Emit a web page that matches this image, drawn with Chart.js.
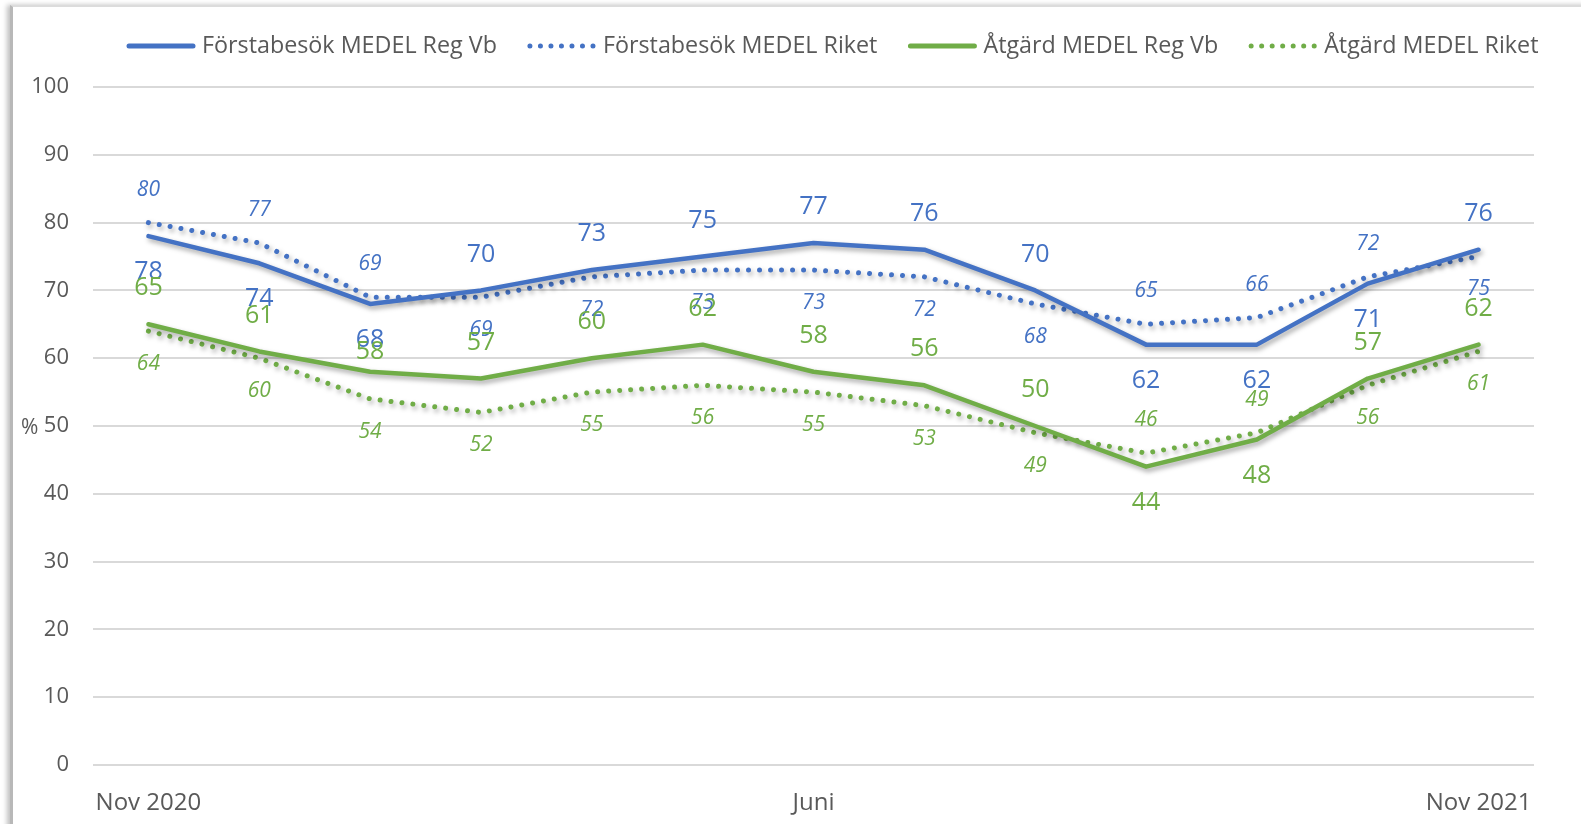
<!DOCTYPE html>
<html>
<head>
<meta charset="utf-8">
<script src="https://cdn.jsdelivr.net/npm/chart.js@4"></script>
<style>
  html, body { margin: 0; padding: 0; background: #fff; overflow: hidden; }
  #frame { position: absolute; left: 10px; top: 5px; width: 1600px; height: 900px;
           border-top: 2px solid #dcdcdc; border-left: 3px solid #b8b8b8;
           box-shadow: -3px 0 5px rgba(0,0,0,0.25); background: #fff; }
  #wrap { position: absolute; left: 0; top: 0; width: 1581px; height: 824px; }
</style>
</head>
<body>
<div id="frame"></div>
<div id="wrap"><canvas id="c" width="1581" height="824"></canvas></div>
<script>
// ---- Data ----
const months = ["Nov 2020","Dec","Jan","Feb","Mar","Apr","Juni","Jul","Aug","Sep","Okt","Nov","Nov 2021"];
const shownTickLabels = {0: "Nov 2020", 6: "Juni", 12: "Nov 2021"};
const seriesNames = ["Förstabesök MEDEL Reg Vb", "Förstabesök MEDEL Riket", "Åtgärd MEDEL Reg Vb", "Åtgärd MEDEL Riket"];
const forstaRegVb = [78, 74, 68, 70, 73, 75, 77, 76, 70, 62, 62, 71, 76];
const forstaRiket = [80, 77, 69, 69, 72, 73, 73, 72, 68, 65, 66, 72, 75];
const atgardRegVb = [65, 61, 58, 57, 60, 62, 58, 56, 50, 44, 48, 57, 62];
const atgardRiket = [64, 60, 54, 52, 55, 56, 55, 53, 49, 46, 49, 56, 61];
const yTicks = [0, 10, 20, 30, 40, 50, 60, 70, 80, 90, 100];

// ---- Label placement (style): + = above point, - = below (multiplier of offset) ----
const placeForstaRegVb = [-1,-1,-1, 1, 1, 1, 1, 1, 1,-1,-1,-1, 1];
const placeForstaRiket = [ 1, 1, 1,-1,-1,-1,-1,-1,-1, 1, 1, 1,-1];
const placeAtgardRegVb = [ 1, 1, 0.55, 1, 1, 1, 1, 1, 1,-1,-1, 1, 1];
const placeAtgardRiket = [-1,-1,-1,-1,-1,-1,-1,-1,-1, 1, 1,-1,-1];

const BLUE = "#4472C4", GREEN = "#70AD47", TXT = "#595959";
const FONT = "'Open Sans', sans-serif";

const ds = (label, data, color, dotted, place) => ({
  label, data, borderColor: color, backgroundColor: color,
  borderWidth: dotted ? 5 : 4.5,
  borderDash: dotted ? [0.01, 11] : [],
  borderCapStyle: "round",
  borderJoinStyle: "round",
  pointRadius: 0, pointHoverRadius: 0, tension: 0, fill: false,
  _dotted: dotted, _place: place
});

const shadowPlugin = {
  id: "shadow",
  beforeDatasetDraw(chart) {
    const ctx = chart.ctx; ctx.save();
    ctx.shadowColor = "rgba(0,0,0,0.35)"; ctx.shadowBlur = 5;
    ctx.shadowOffsetX = 2; ctx.shadowOffsetY = 3;
  },
  afterDatasetDraw(chart) { chart.ctx.restore(); }
};

const labelPlugin = {
  id: "labels",
  afterDatasetsDraw(chart) {
    const ctx = chart.ctx;
    const xs = chart.scales.x, ys = chart.scales.y;
    const order = [1, 3, 0, 2];
    order.forEach(i => {
      const d = chart.data.datasets[i];
      ctx.save();
      ctx.fillStyle = d.borderColor;
      ctx.textAlign = "center"; ctx.textBaseline = "middle";
      ctx.font = d._dotted ? `italic 21px ${FONT}` : `25px ${FONT}`;
      d.data.forEach((v, j) => {
        const x = xs.getPixelForValue(j);
        const y = ys.getPixelForValue(v) - d._place[j] * (d._dotted ? 33 : 36);
        ctx.fillText(String(v), x, y);
      });
      ctx.restore();
    });
    ctx.save();
    ctx.fillStyle = TXT; ctx.font = `21px ${FONT}`;
    ctx.textAlign = "left"; ctx.textBaseline = "middle";
    ctx.fillText("%", 21, ys.getPixelForValue(50) + 2);
    ctx.restore();
  }
};

const legendPlugin = {
  id: "customLegend",
  afterDraw(chart) {
    const ctx = chart.ctx;
    ctx.save();
    ctx.font = `23.3px ${FONT}`;
    ctx.textBaseline = "middle";
    const y = 46, sample = 68, gapText = 7, gapItem = 31;
    let x = 127;
    chart.data.datasets.forEach((d) => {
      ctx.strokeStyle = d.borderColor;
      ctx.lineWidth = 5;
      ctx.lineCap = "round";
      ctx.setLineDash(d._dotted ? [0.01, 10.5] : []);
      ctx.beginPath(); ctx.moveTo(x + 2, y); ctx.lineTo(x + sample - 2, y); ctx.stroke();
      ctx.setLineDash([]);
      ctx.fillStyle = TXT;
      ctx.fillText(d.label, x + sample + gapText, y);
      x += sample + gapText + ctx.measureText(d.label).width + gapItem;
    });
    ctx.restore();
  }
};

new Chart(document.getElementById("c"), {
  type: "line",
  data: {
    labels: months,
    datasets: [
      ds(seriesNames[0], forstaRegVb, BLUE, false, placeForstaRegVb),
      ds(seriesNames[1], forstaRiket, BLUE, true, placeForstaRiket),
      ds(seriesNames[2], atgardRegVb, GREEN, false, placeAtgardRegVb),
      ds(seriesNames[3], atgardRiket, GREEN, true, placeAtgardRiket)
    ]
  },
  options: {
    responsive: false, animation: false,
    layout: { padding: { top: 87, right: 47, bottom: 7, left: 0 } },
    plugins: { legend: { display: false }, tooltip: { enabled: false } },
    scales: {
      x: {
        offset: true,
        grid: { display: false, drawTicks: false },
        border: { display: false },
        afterFit: (s) => { s.height = 52; },
        ticks: {
          autoSkip: false, maxRotation: 0, padding: 24,
          color: TXT, font: { family: FONT, size: 24 },
          callback: (v, i) => shownTickLabels[i] !== undefined ? shownTickLabels[i] : ""
        }
      },
      y: {
        min: 0, max: 100,
        afterBuildTicks: (s) => { s.ticks = yTicks.map(v => ({ value: v })); },
        afterFit: (s) => { s.width = 93; },
        grid: { color: "#d9d9d9", lineWidth: 2, drawTicks: false },
        border: { display: false },
        ticks: { padding: 24, color: TXT, font: { family: FONT, size: 22 } }
      }
    }
  },
  plugins: [shadowPlugin, labelPlugin, legendPlugin]
});
</script>
</body>
</html>
